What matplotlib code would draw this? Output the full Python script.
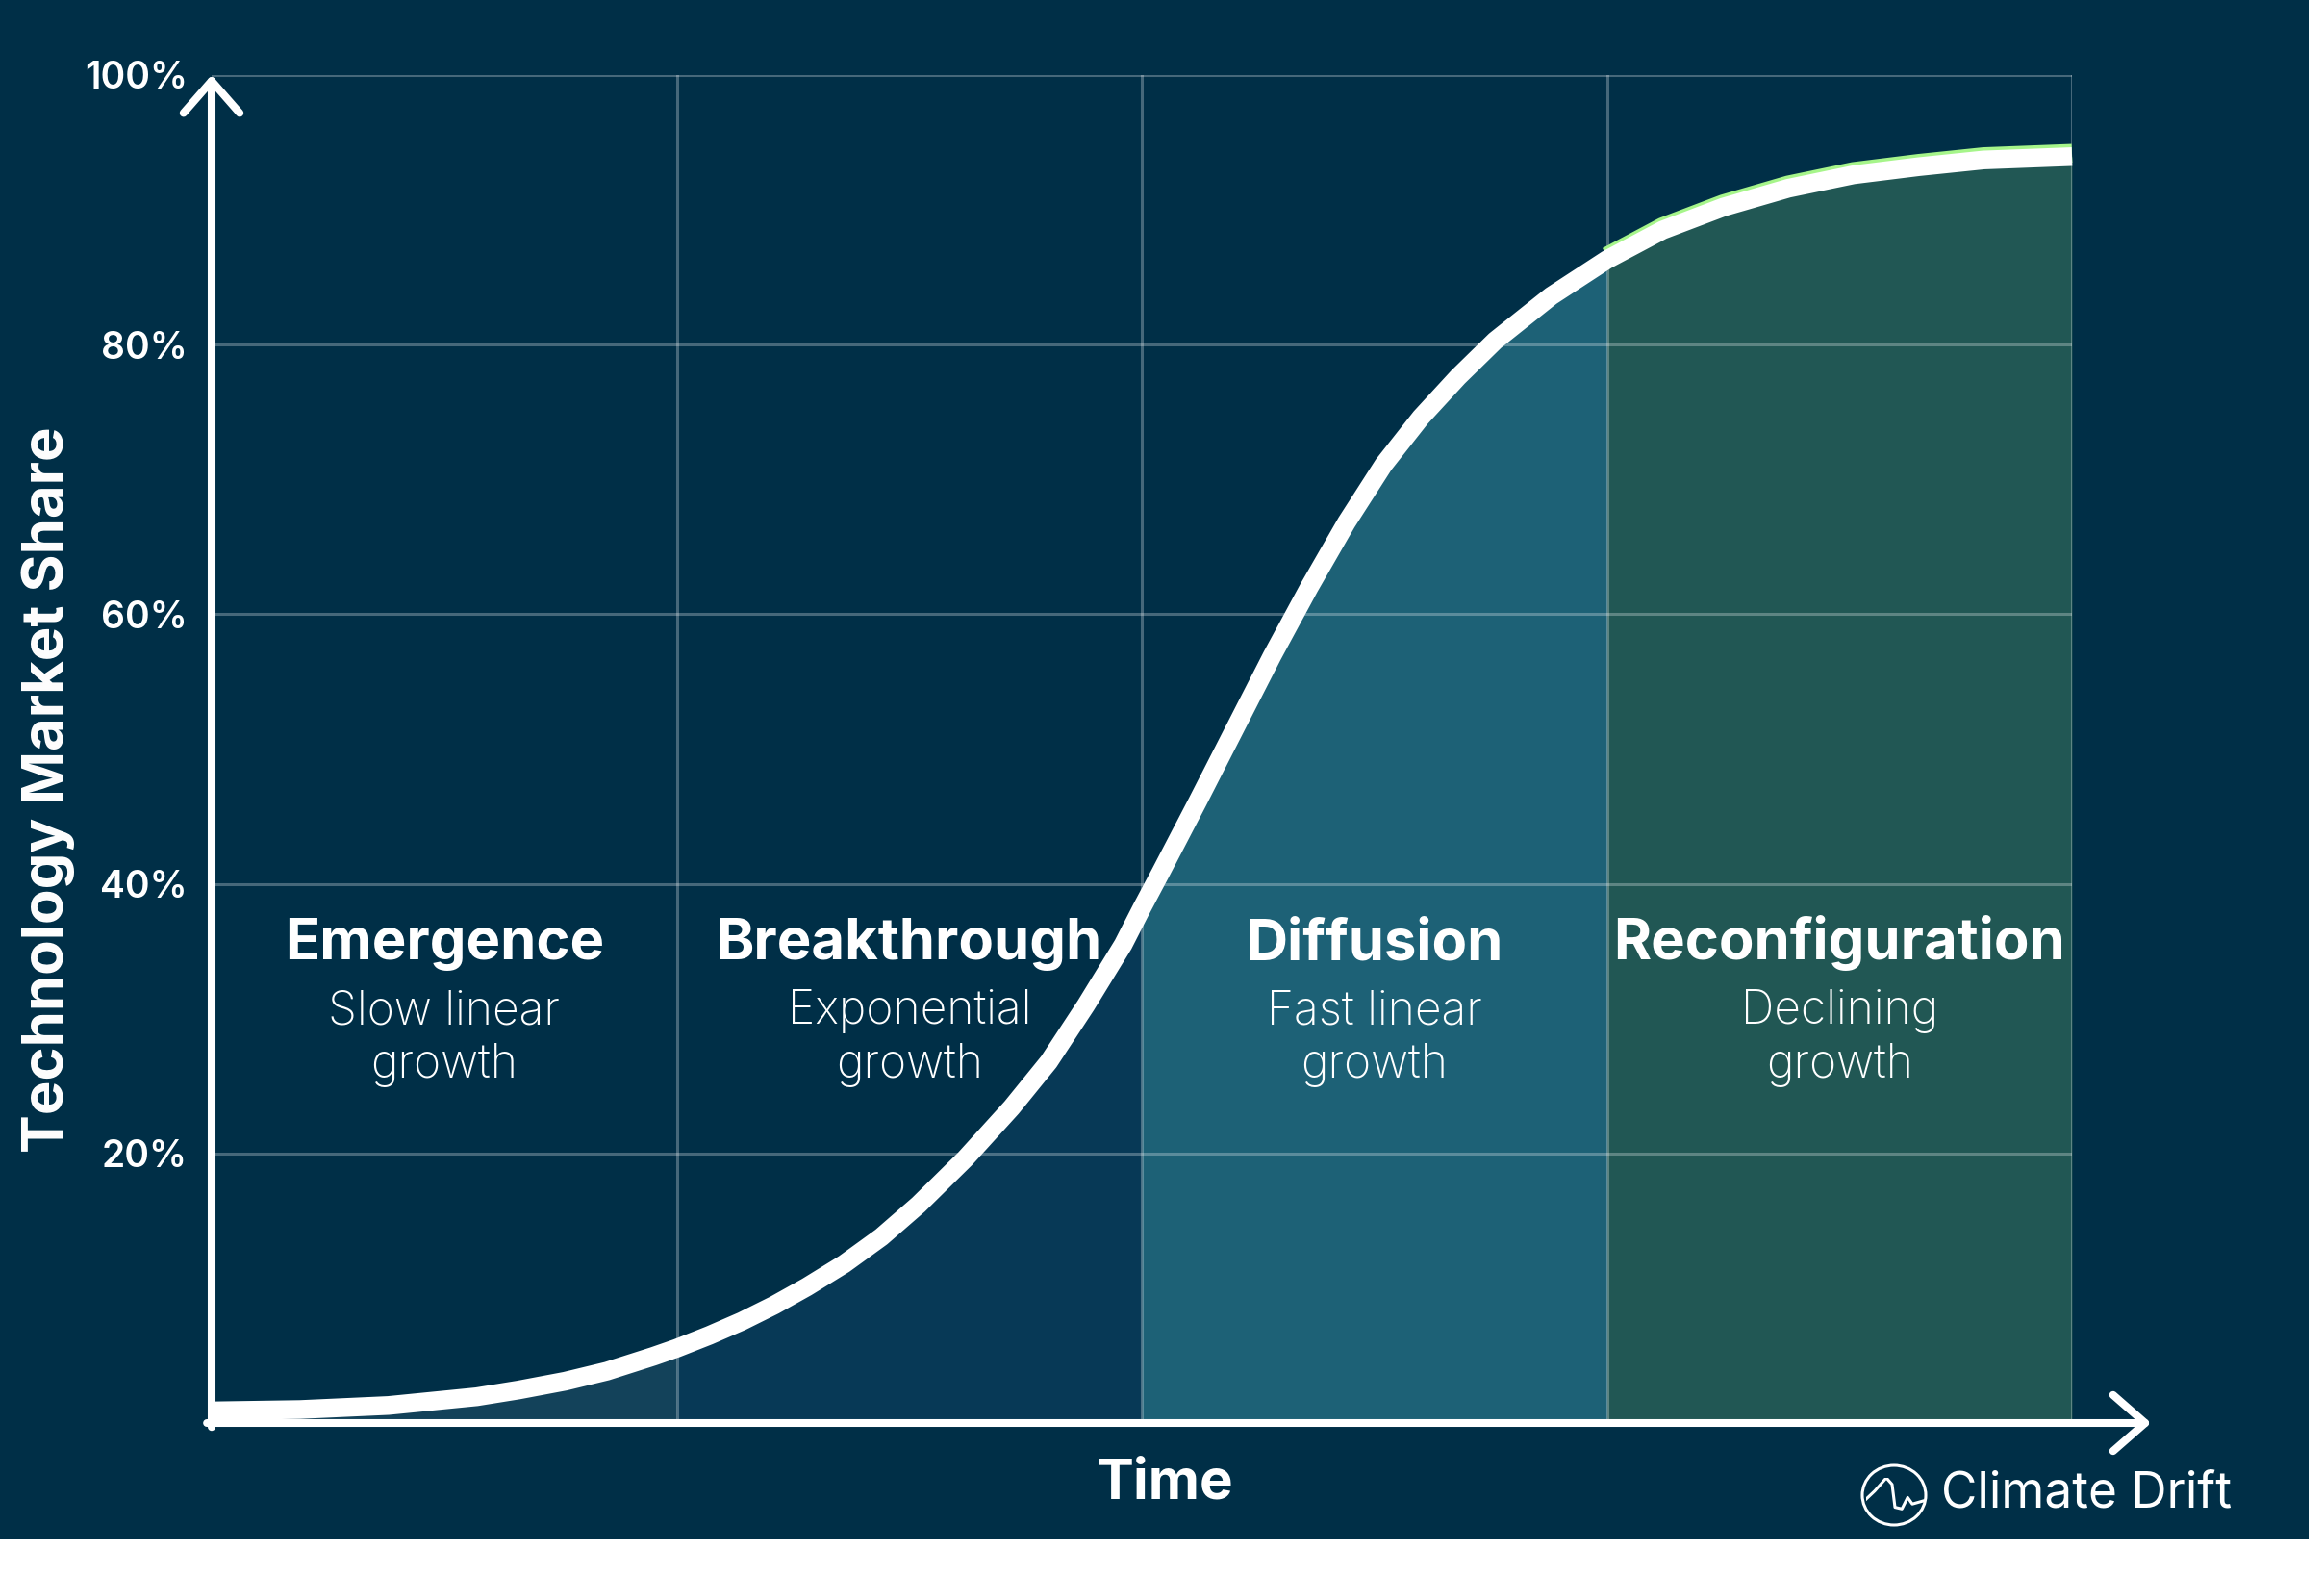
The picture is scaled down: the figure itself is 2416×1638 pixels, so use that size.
import matplotlib.pyplot as plt
import matplotlib.transforms as mtransforms
from matplotlib.patches import Rectangle, Ellipse

# time axis is in "phase units" (0-4), share in percent
time_pts = [0.00, 0.19, 0.38, 0.57, 0.66, 0.76, 0.85, 0.95, 1.00, 1.07,
            1.14, 1.21, 1.28, 1.36, 1.44, 1.52, 1.62, 1.72, 1.80, 1.88,
            1.96, 2.00, 2.04, 2.12, 2.20, 2.28, 2.36, 2.44, 2.52, 2.60,
            2.68, 2.76, 2.88, 3.00, 3.12, 3.25, 3.39, 3.53, 3.67, 3.81,
            4.00]
share_pts = [0.9, 1.0, 1.3, 1.95, 2.45, 3.1, 3.85, 4.95, 5.55, 6.5,
             7.55, 8.75, 10.1, 11.8, 13.8, 16.2, 19.6, 23.4, 26.8, 31.0,
             35.5, 38.2, 40.8, 46.1, 51.5, 56.9, 62.0, 66.8, 71.1, 74.6,
             77.6, 80.3, 83.6, 86.3, 88.5, 90.2, 91.6, 92.6, 93.2, 93.7,
             93.95]

phases = ['Emergence', 'Breakthrough', 'Diffusion', 'Reconfiguration']
phase_desc = [('Slow linear', 'growth'), ('Exponential', 'growth'),
              ('Fast linear', 'growth'), ('Declining', 'growth')]
phase_bounds = [(0, 1), (1, 2), (2, 3), (3, 4)]
phase_colors = ['#13425a', '#073956', '#1d6176', '#215754']

y_ticks = [20, 40, 60, 80, 100]
y_labels = ['20%', '40%', '60%', '80%', '100%']

BG = '#002f47'
plt.rcParams['font.family'] = ['Inter', 'DejaVu Sans']

fig = plt.figure(figsize=(24.16, 16.38), dpi=100, facecolor='white')
# the source image has a thin white margin right and bottom
fig.patches.append(Rectangle((0, 38 / 1638), 2400 / 2416, 1 - 38 / 1638,
                             transform=fig.transFigure, facecolor=BG,
                             edgecolor='none', zorder=-10))

ax = fig.add_axes([220 / 2416, 159 / 1638, 1934 / 2416, 1401 / 1638])
ax.set_facecolor('none')
ax.set_xlim(0, 4)
ax.set_ylim(0, 100)
for s in ax.spines.values():
    s.set_visible(False)

# phase fills under the curve
for (lo, hi), c in zip(phase_bounds, phase_colors):
    xs = [t for t in time_pts if lo <= t <= hi]
    ys = [v for t, v in zip(time_pts, share_pts) if lo <= t <= hi]
    ax.fill_between(xs, 0, ys, color=c, lw=0, zorder=1)

# grid
ax.set_xticks([1, 2, 3, 4])
ax.set_xticklabels([])
ax.set_yticks(y_ticks)
ax.set_yticklabels(y_labels, fontsize=28, fontweight='semibold', color='white')
ax.tick_params(length=0, pad=18)
ax.set_axisbelow(False)
ax.grid(True, color='white', alpha=0.28, lw=2.2)

# green edge on the reconfiguration part, then the white curve
xs4 = [t for t in time_pts if t >= 3]
ys4 = [v for t, v in zip(time_pts, share_pts) if t >= 3]
shift = mtransforms.offset_copy(ax.transData, fig=fig, y=3.5, units='dots')
ax.plot(xs4, ys4, color='#a6f58a', lw=14, solid_capstyle='butt',
        solid_joinstyle='round', transform=shift, zorder=4, clip_on=False)
ax.plot(time_pts, share_pts, color='white', lw=14, solid_capstyle='butt',
        solid_joinstyle='round', zorder=5, clip_on=False)

# axis arrows
arrow = dict(arrowstyle='->,head_length=24,head_width=21', mutation_scale=1,
             color='white', lw=5.8, shrinkA=0, shrinkB=0,
             capstyle='round', joinstyle='round')
ax.annotate('', xy=(0, 100), xytext=(0, -0.3), arrowprops=arrow,
            annotation_clip=False, zorder=6)
ax.annotate('', xy=(4.17, 0), xytext=(-0.01, 0), arrowprops=arrow,
            annotation_clip=False, zorder=6)

# phase labels
for i, name in enumerate(phases):
    cx = (phase_bounds[i][0] + phase_bounds[i][1]) / 2
    ax.text(cx, 34.4, name, ha='center', va='baseline', fontsize=43,
            fontweight='bold', color='white', zorder=7)
    ax.text(cx, 29.6, phase_desc[i][0], ha='center', va='baseline',
            fontsize=34.5, fontweight='light', color='white', zorder=7)
    ax.text(cx, 25.6, phase_desc[i][1], ha='center', va='baseline',
            fontsize=34.5, fontweight='light', color='white', zorder=7)

fig.text(50 / 2416, 0.499, 'Technology Market Share', rotation=90,
         ha='center', va='center', fontsize=43, fontweight='bold', color='white')
fig.text(1211 / 2416, 0.058, 'Time', ha='center', va='center', fontsize=42,
         fontweight='bold', color='white')

# brand mark
fig.text(2018 / 2416, 0.052, 'Climate Drift', ha='left', va='center',
         fontsize=37, color='white')
fig.patches.append(Ellipse((1969 / 2416, 84 / 1638), 66 / 2416, 62 / 1638,
                           transform=fig.transFigure, facecolor='none',
                           edgecolor='white', lw=2.2))
lx = ax.inset_axes([1940 / 2416, 68 / 1638, 60 / 2416, 34 / 1638],
                   transform=fig.transFigure)
lx.set_axis_off()
lx.plot([0, 0.15, 0.35, 0.45, 0.5, 0.62, 0.72, 0.8, 1.0],
        [0.35, 0.6, 1.0, 0.8, 0.1, 0.05, 0.4, 0.2, 0.3],
        color='white', lw=2.2)
lx.set_xlim(0, 1)
lx.set_ylim(0, 1)

fig.savefig('out.png', dpi=100, facecolor='white')
